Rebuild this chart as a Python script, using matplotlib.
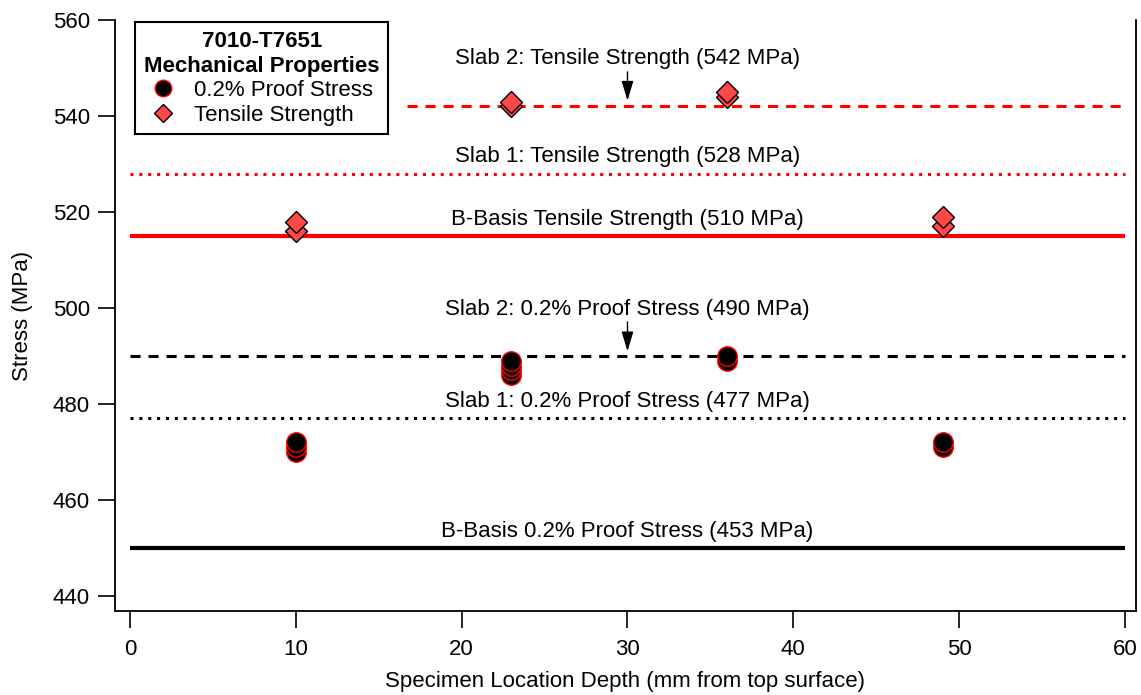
import matplotlib
matplotlib.use("Agg")
import matplotlib.pyplot as plt

plt.rcParams['font.family'] = ['Liberation Sans', 'DejaVu Sans']

# Data
proof_x = [10, 10, 10, 23, 23, 23, 23, 36, 36, 49, 49]
proof_y = [470, 471, 472, 486, 487, 488, 489, 489, 490, 471, 472]
tensile_x = [10, 10, 23, 23, 36, 36, 49, 49]
tensile_y = [516, 518, 542, 543, 544, 545, 517, 519]

# Reference lines: (value, start x, colour, style, label, label value)
ref_values = [450, 477, 490, 515, 528, 542]
ref_start = [0, 0, 0, 0, 0, 16.7]
ref_colors = ['black', 'black', 'black', 'red', 'red', 'red']
ref_styles = ['solid', 'dotted', 'dashed', 'solid', 'dotted', 'dashed']
ref_labels = ['B-Basis 0.2% Proof Stress (453 MPa)',
              'Slab 1: 0.2% Proof Stress (477 MPa)',
              'Slab 2: 0.2% Proof Stress (490 MPa)',
              'B-Basis Tensile Strength (510 MPa)',
              'Slab 1: Tensile Strength (528 MPa)',
              'Slab 2: Tensile Strength (542 MPa)']
label_y = [453.5, 480.6, 499.6, 518.5, 531.5, 551.9]
arrow_from = [None, None, 497.1, None, None, 549.2]
arrow_to = [None, None, 491.0, None, None, 543.2]

FS = 16

fig = plt.figure(figsize=(11.41, 6.95), dpi=100)
ax = fig.add_axes([0.1008, 0.1209, 0.8948, 0.8503])

for v, s, c, ls, lab, ly, af, at in zip(ref_values, ref_start, ref_colors, ref_styles,
                                         ref_labels, label_y, arrow_from, arrow_to):
    if ls == 'solid':
        ax.plot([s, 60], [v, v], color=c, lw=3.0, solid_capstyle='butt', zorder=2)
    elif ls == 'dashed':
        ax.plot([s, 60], [v, v], color=c, lw=2.2, linestyle=(0, (3.3, 2.6)),
                dash_capstyle='butt', zorder=2)
    else:
        ax.plot([s, 60], [v, v], color=c, lw=2.2, linestyle=(0, (1.0, 1.9)),
                dash_capstyle='butt', zorder=2)
    ax.text(30, ly, lab, ha='center', va='center', fontsize=FS, color='black')
    if af is not None:
        ax.annotate('', xy=(30, at), xytext=(30, af),
                    arrowprops=dict(arrowstyle='-|>,head_length=0.6,head_width=0.18',
                                    color='black', lw=1.0,
                                    mutation_scale=20, shrinkA=0, shrinkB=0))

ax.plot(proof_x, proof_y, linestyle='none', marker='o', markersize=14,
        markerfacecolor='black', markeredgecolor='red', markeredgewidth=1.0,
        label='0.2% Proof Stress', zorder=3)
ax.plot(tensile_x, tensile_y, linestyle='none', marker='D', markersize=11,
        markerfacecolor='#ff4848', markeredgecolor='black', markeredgewidth=1.0,
        label='Tensile Strength', zorder=3)

ax.set_xlim(-0.9, 60.66)
ax.set_ylim(436.9, 560)
ax.set_xticks([0, 10, 20, 30, 40, 50, 60])
ax.set_yticks([440, 460, 480, 500, 520, 540, 560])
ax.tick_params(axis='both', direction='out', length=12, width=1.2, labelsize=FS)
ax.tick_params(axis='y', pad=6)
ax.tick_params(axis='x', pad=8)
ax.spines['top'].set_visible(False)
for sp in ['left', 'right', 'bottom']:
    ax.spines[sp].set_linewidth(1.3)
ax.set_xlabel('Specimen Location Depth (mm from top surface)', fontsize=FS, labelpad=8)
ax.set_ylabel('Stress (MPa)', fontsize=FS, labelpad=14)

leg = ax.legend(loc='upper left', bbox_to_anchor=(0.0196, 0.9966),
                title='7010-T7651\nMechanical Properties',
                title_fontproperties={'weight': 'bold', 'size': FS},
                fontsize=FS, frameon=True, fancybox=False, handletextpad=0.8,
                borderpad=0.4, labelspacing=0.15, handlelength=1.2, borderaxespad=0,
                markerscale=0.85)
leg.get_title().set_multialignment('center')
leg.get_title().set_linespacing(1.25)
leg.get_frame().set_edgecolor('black')
leg.get_frame().set_linewidth(1.5)
leg.get_frame().set_alpha(1)

fig.savefig('out.png', dpi=100)
